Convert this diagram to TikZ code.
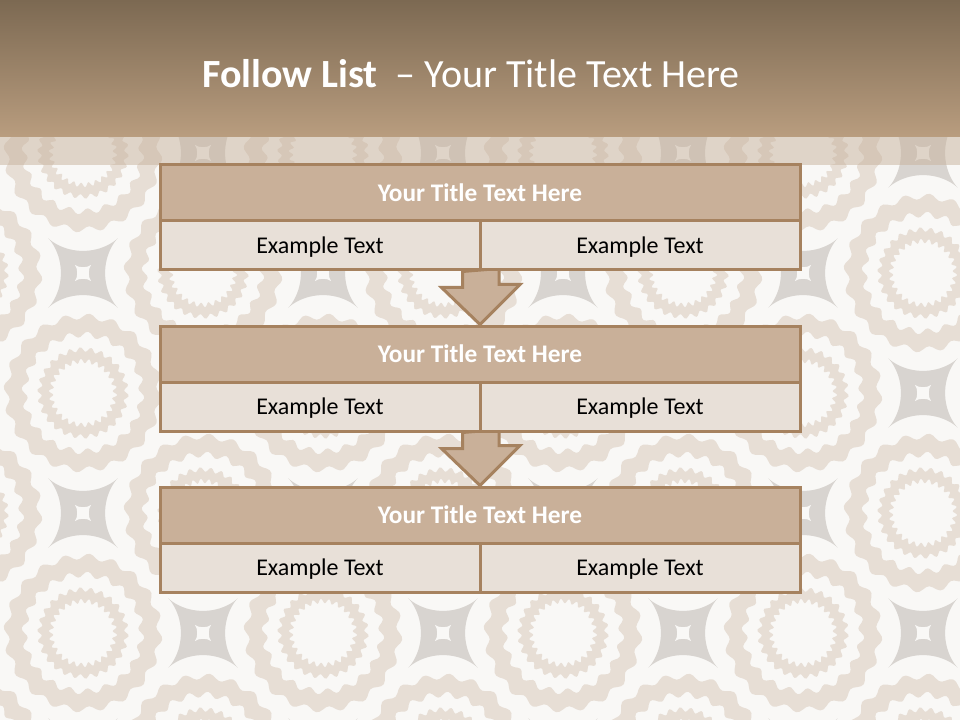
\documentclass[tikz,border=0pt]{standalone}
\usepackage{fontspec}
\setmainfont{Carlito}
\usetikzlibrary{calc}
\definecolor{bgwhite}{HTML}{F9F8F6}
\definecolor{ringc}{HTML}{E7DED5}
\definecolor{stargrey}{HTML}{D8D4D0}
\definecolor{headtop}{HTML}{7C6952}
\definecolor{headbot}{HTML}{B99D7F}
\definecolor{stripc}{HTML}{C7B29C}
\definecolor{bordc}{HTML}{A6825F}
\definecolor{titlefill}{HTML}{C9B099}
\definecolor{exfill}{HTML}{E8E0D8}
\pgfdeclarelayer{pat}
\pgfdeclarelayer{arr}
\pgfsetlayers{pat,arr,main}
\begin{document}
\begin{tikzpicture}[x=0.75pt,y=-0.75pt,
 titlecell/.style={draw=bordc, line width=2.25pt, fill=titlefill, minimum width=480pt, minimum height=42pt, inner sep=0pt, text=white, font=\fontsize{19pt}{22pt}\selectfont\bfseries, text height=12.2pt, text depth=0pt},
 excell/.style={draw=bordc, line width=2.25pt, fill=exfill, minimum width=240pt, minimum height=36.75pt, inner sep=0pt, text=black, font=\fontsize{18pt}{21pt}\selectfont, text height=11.6pt, text depth=0pt},
 blockarrow/.style={draw=bordc, line width=2.25pt, fill=titlefill, line join=miter},
 headtitle/.style={text=white, font=\fontsize{30pt}{34pt}\selectfont, inner sep=0pt, text height=19.3pt, text depth=0pt}]
\useasboundingbox (0,0) rectangle (960,720);
\begin{pgfonlayer}{pat}
% background pattern
\begin{scope}
\clip (0,0) rectangle (960,720);
\fill[bgwhite] (0,0) rectangle (960,720);
\foreach \i in {-1,...,8}{\foreach \j in {-2,...,4}{
  \pgfmathtruncatemacro\pp{mod(\i+\j+20,2)}
  \ifnum\pp=1
  \begin{scope}[shift={({83+120*\i},{273+120*\j})}]
  \fill[ringc, even odd rule] plot[domain=0:360, samples=145] (\x:{76.5+3*sin(20*\x)}) -- cycle
     plot[domain=0:360, samples=145] (\x:{58.5+3*sin(20*\x)}) -- cycle;
  \fill[ringc, even odd rule] plot[domain=0:360, samples=169] (\x:{43.5+2.3*sin(26*\x)}) -- cycle
     plot[domain=0:360, samples=169] (\x:{32+2.3*sin(26*\x)}) -- cycle;
  \end{scope}
  \else
  \begin{scope}[shift={({83+120*\i},{273+120*\j})}]
  \fill[stargrey, rotate=45] plot[domain=1.5:361.5, samples=121] ({49*cos(\x)*abs(cos(\x))^2.3},{49*sin(\x)*abs(sin(\x))^2.3}) -- cycle;
  \fill[bgwhite] (-8,-8) .. controls (-4,-5) and (4,-5) .. (8,-8) .. controls (5,-4) and (5,4) .. (8,8)
     .. controls (4,5) and (-4,5) .. (-8,8) .. controls (-5,4) and (-5,-4) .. (-8,-8) -- cycle;
  \end{scope}
  \fi
}}
\end{scope}
% header
\shade[top color=headtop, bottom color=headbot] (0,0) rectangle (960,137);
\fill[stripc, opacity=0.5] (0,137) rectangle (960,165);
\end{pgfonlayer}
\node[headtitle] (title) at (471,75) {\textbf{Follow List}\ \ – Your Title Text Here};
% boxes
\node[titlecell] (t1) at (480,193) {Your Title Text Here};
\node[excell] (a1) at (320,245.5) {Example Text};
\node[excell] (b1) at (640,245.5) {Example Text};
\node[titlecell] (t2) at (480,354) {Your Title Text Here};
\node[excell] (a2) at (320,406.5) {Example Text};
\node[excell] (b2) at (640,406.5) {Example Text};
\node[titlecell] (t3) at (480,515) {Your Title Text Here};
\node[excell] (a3) at (320,567.5) {Example Text};
\node[excell] (b3) at (640,567.5) {Example Text};
% arrows
\begin{pgfonlayer}{arr}
\draw[blockarrow] ($(a1.south east)+(-19,0)$) -- ++(0,16) -- ++(-21,0) -- (t2.north) -- ++(40,-40) -- ++(-21,0) -- ++(0,-16) -- cycle;
\draw[blockarrow] ($(a2.south east)+(-19,0)$) -- ++(0,16) -- ++(-21,0) -- (t3.north) -- ++(40,-40) -- ++(-21,0) -- ++(0,-16) -- cycle;
\end{pgfonlayer}
\end{tikzpicture}
\end{document}
